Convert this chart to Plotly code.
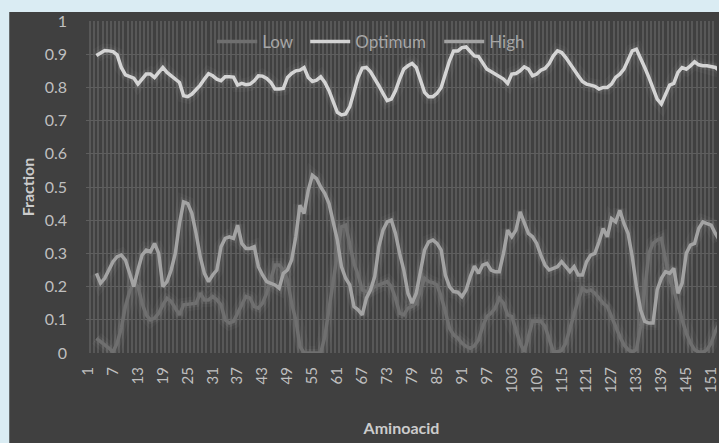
import plotly.graph_objects as go

# Aminoacid positions (categories)
amino = list(range(1, 154))

optimum = [
    None, None, 0.896, 0.905, 0.911, 0.910, 0.908, 0.898, 0.860, 0.838,
    0.833, 0.828, 0.810, 0.825, 0.840, 0.840, 0.830, 0.845, 0.860, 0.845,
    0.835, 0.827, 0.815, 0.775, 0.772, 0.780, 0.792, 0.807, 0.825, 0.841,
    0.835, 0.825, 0.820, 0.832, 0.832, 0.831, 0.807, 0.812, 0.808, 0.810,
    0.820, 0.835, 0.834, 0.827, 0.815, 0.795, 0.795, 0.797, 0.830, 0.842,
    0.850, 0.852, 0.860, 0.830, 0.818, 0.822, 0.832, 0.815, 0.790, 0.760,
    0.725, 0.717, 0.720, 0.742, 0.785, 0.830, 0.858, 0.860, 0.847, 0.828,
    0.805, 0.782, 0.760, 0.765, 0.790, 0.825, 0.855, 0.865, 0.872, 0.860,
    0.820, 0.785, 0.772, 0.772, 0.782, 0.800, 0.840, 0.880, 0.910, 0.910,
    0.920, 0.922, 0.908, 0.895, 0.893, 0.875, 0.855, 0.848, 0.840, 0.832,
    0.825, 0.812, 0.840, 0.842, 0.850, 0.862, 0.855, 0.835, 0.840, 0.852,
    0.857, 0.872, 0.895, 0.910, 0.905, 0.890, 0.870, 0.850, 0.835, 0.818,
    0.810, 0.807, 0.803, 0.795, 0.800, 0.800, 0.810, 0.830, 0.840, 0.855,
    0.885, 0.910, 0.915, 0.890, 0.860, 0.830, 0.795, 0.765, 0.750, 0.780,
    0.807, 0.812, 0.845, 0.860, 0.855, 0.865, 0.877, 0.868, 0.865, 0.865,
    0.862, 0.860, 0.850,
]

high = [
    None, None, 0.240, 0.210, 0.225, 0.250, 0.275, 0.290, 0.295, 0.280,
    0.240, 0.200, 0.250, 0.295, 0.310, 0.305, 0.330, 0.300, 0.200, 0.215,
    0.250, 0.300, 0.390, 0.455, 0.450, 0.420, 0.360, 0.290, 0.240, 0.215,
    0.235, 0.250, 0.320, 0.345, 0.350, 0.345, 0.385, 0.330, 0.315, 0.315,
    0.320, 0.260, 0.235, 0.215, 0.210, 0.205, 0.195, 0.240, 0.250, 0.280,
    0.350, 0.445, 0.420, 0.490, 0.535, 0.525, 0.500, 0.480, 0.450, 0.400,
    0.340, 0.260, 0.225, 0.205, 0.140, 0.130, 0.115, 0.165, 0.190, 0.230,
    0.320, 0.370, 0.395, 0.400, 0.360, 0.300, 0.250, 0.180, 0.150, 0.180,
    0.245, 0.310, 0.335, 0.340, 0.330, 0.310, 0.235, 0.200, 0.185, 0.183,
    0.170, 0.190, 0.230, 0.262, 0.240, 0.265, 0.270, 0.250, 0.245, 0.245,
    0.300, 0.370, 0.350, 0.370, 0.425, 0.390, 0.360, 0.350, 0.330, 0.295,
    0.265, 0.250, 0.255, 0.260, 0.275, 0.260, 0.245, 0.260, 0.235, 0.235,
    0.275, 0.295, 0.300, 0.335, 0.375, 0.350, 0.405, 0.395, 0.430, 0.390,
    0.360, 0.290, 0.200, 0.130, 0.095, 0.090, 0.090, 0.190, 0.225, 0.245,
    0.240, 0.255, 0.180, 0.210, 0.300, 0.325, 0.330, 0.375, 0.395, 0.390,
    0.385, 0.360, 0.340,
]

low = [
    None, None, 0.044, 0.035, 0.025, 0.015, 0.003, 0.030, 0.075, 0.140,
    0.185, 0.210, 0.200, 0.150, 0.115, 0.100, 0.105, 0.120, 0.145, 0.165,
    0.155, 0.135, 0.115, 0.145, 0.147, 0.147, 0.150, 0.180, 0.160, 0.160,
    0.170, 0.160, 0.145, 0.100, 0.090, 0.095, 0.120, 0.145, 0.170, 0.165,
    0.140, 0.135, 0.150, 0.180, 0.220, 0.265, 0.265, 0.250, 0.220, 0.150,
    0.100, 0.020, 0.000, 0.000, 0.000, 0.000, 0.000, 0.050, 0.130, 0.215,
    0.300, 0.380, 0.385, 0.330, 0.270, 0.235, 0.190, 0.185, 0.190, 0.200,
    0.205, 0.210, 0.215, 0.200, 0.165, 0.120, 0.115, 0.135, 0.140, 0.150,
    0.190, 0.225, 0.215, 0.212, 0.205, 0.170, 0.125, 0.075, 0.055, 0.045,
    0.030, 0.020, 0.014, 0.022, 0.040, 0.080, 0.110, 0.120, 0.135, 0.165,
    0.150, 0.115, 0.110, 0.070, 0.030, 0.004, 0.050, 0.095, 0.096, 0.095,
    0.080, 0.040, 0.004, 0.004, 0.008, 0.030, 0.075, 0.120, 0.160, 0.195,
    0.185, 0.190, 0.180, 0.165, 0.150, 0.140, 0.110, 0.075, 0.050, 0.025,
    0.010, 0.004, 0.010, 0.080, 0.190, 0.300, 0.330, 0.340, 0.345, 0.280,
    0.220, 0.190, 0.140, 0.100, 0.060, 0.030, 0.010, 0.003, 0.003, 0.010,
    0.030, 0.065, 0.090,
]

series_names = ["Low", "Optimum", "High"]
series_values = [low, optimum, high]
series_colors = ["#6f6f6f", "#d4d4d4", "#a3a3a3"]
legend_widths = [38, 79, 40]

FONT = "Lato, 'Open Sans', sans-serif"
BG = "#404040"

fig = go.Figure()

# soft glow under each line
for vals in series_values:
    for w, a in [(14, 0.035), (8, 0.05)]:
        fig.add_trace(go.Scatter(
            x=amino, y=vals, mode="lines", showlegend=False, hoverinfo="skip",
            line=dict(color=f"rgba(255,255,255,{a})", width=w),
        ))

for name, vals, color, lw in zip(series_names, series_values, series_colors, legend_widths):
    fig.add_trace(go.Scatter(
        x=amino, y=vals, mode="lines", name=name, legendwidth=lw,
        line=dict(color=color, width=3.5),
    ))

W, H = 719, 443
ml, mr, mt, mb = 86, 0, 21, 90
pw, ph = W - ml - mr, H - mt - mb

fig.update_layout(
    width=W, height=H,
    margin=dict(l=ml, r=mr, t=mt, b=mb, pad=0),
    paper_bgcolor="#daecf3",
    plot_bgcolor=BG,
    hovermode=False,
    font=dict(family=FONT, color="#bfbfbf"),
    shapes=[dict(
        type="rect", xref="paper", yref="paper", layer="below",
        x0=(9 - ml) / pw, x1=1.02, y0=-(mb + 5) / ph, y1=(H - mb - 12) / ph,
        fillcolor=BG, line=dict(width=0),
    )],
    xaxis=dict(
        range=[0.5, 152.4],
        tickmode="linear", tick0=1, dtick=6,
        tickangle=-90,
        tickfont=dict(family=FONT, size=15, color="#bfbfbf"),
        ticklabeloverflow="allow",
        showgrid=False, zeroline=False, showline=False, ticks="",
        ticklabelstandoff=10,
        minor=dict(tick0=0.5, dtick=1, showgrid=True, gridcolor="#585858", gridwidth=1.5),
        title=dict(text="Aminoacid", standoff=30,
                   font=dict(family=FONT, size=16, color="#cccccc", weight="bold")),
    ),
    yaxis=dict(
        range=[0, 1], tickmode="linear", tick0=0, dtick=0.1,
        tickfont=dict(family=FONT, size=16, color="#bfbfbf"),
        gridcolor="#5e5e5e", gridwidth=1, zeroline=False, showline=False, ticks="",
        ticklabelstandoff=18,
        title=dict(text="Fraction", standoff=6,
                   font=dict(family=FONT, size=16, color="#cccccc", weight="bold")),
    ),
    legend=dict(
        orientation="h", x=0.2, xanchor="left", y=0.937, yanchor="middle",
        bgcolor="rgba(0,0,0,0)", itemwidth=40,
        font=dict(family=FONT, size=17, color="#a6a6a6"),
    ),
)

fig.write_html(
    "out.html",
    config={"displayModeBar": False},
    post_script="document.body.style.margin='0px';document.body.style.overflow='hidden';",
)
